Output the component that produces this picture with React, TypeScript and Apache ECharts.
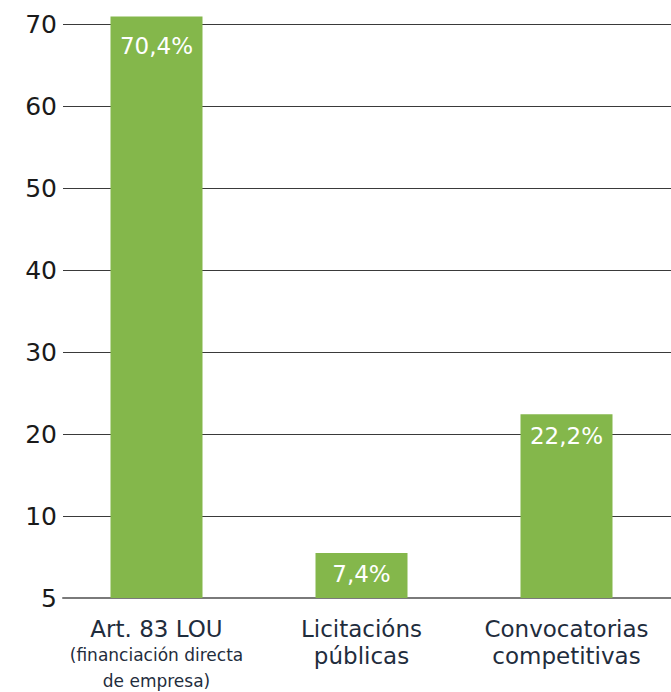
import React, { useEffect, useRef } from "react";
import * as echarts from "echarts";

// Category labels (main line + optional note in smaller type)
const categories = ["Art. 83 LOU", "Licitacións\npúblicas", "Convocatorias\ncompetitivas"];
const categoryNotes = ["(financiación directa\nde empresa)", "", ""];
// Printed share labels on the bars
const shareLabels = ["70,4%", "7,4%", "22,2%"];
// Bar heights
const barValues = [70.9, 5.5, 22.4];
// Y tick labels (the bottom tick is printed as "5")
const yTickLabels = ["5", "10", "20", "30", "40", "50", "60", "70"];

const FONT = "'DejaVu Sans', 'Open Sans', sans-serif";
const GREEN = "#84b74b";

export default function App() {
  const ref = useRef<HTMLDivElement>(null);
  useEffect(() => {
    document.body.style.margin = "0";
    if (!ref.current) return;
    const chart = echarts.init(ref.current, null, { renderer: "svg" });
    const formatCat = (v: string) => {
      const i = categories.indexOf(v);
      const main = v
        .split("\n")
        .map((s) => `{m|${s}}`)
        .join("\n");
      const note = categoryNotes[i]
        ? "\n" +
          categoryNotes[i]
            .split("\n")
            .map((s) => `{n|${s}}`)
            .join("\n")
        : "";
      return main + note;
    };
    chart.setOption({
      animation: false,
      textStyle: { fontFamily: FONT },
      grid: [
        { left: 63, right: 0, top: 24, bottom: 94, containLabel: false },
        { left: 54, right: 2, top: 24, bottom: 94, containLabel: false },
      ],
      xAxis: [
        {
          gridIndex: 0,
          type: "category",
          data: [""],
          axisLine: { show: true, lineStyle: { color: "#7a7a7a", width: 2 } },
          axisTick: { show: false },
          axisLabel: { show: false },
          splitLine: { show: false },
        },
        {
          gridIndex: 1,
          type: "category",
          data: categories,
          axisLine: { show: false },
          axisTick: { show: false },
          axisLabel: {
            margin: 17,
            interval: 0,
            formatter: formatCat,
            rich: {
              m: { fontFamily: FONT, fontSize: 23, lineHeight: 27, color: "#1f2d3d", align: "center" },
              n: { fontFamily: FONT, fontSize: 17, lineHeight: 26, color: "#1f2d3d", align: "center" },
            },
          },
        },
      ],
      yAxis: [
        {
          gridIndex: 0,
          type: "value",
          min: 0,
          max: 70,
          interval: 10,
          axisLine: { show: false },
          axisTick: { show: false },
          axisLabel: {
            margin: 6,
            fontFamily: FONT,
            fontSize: 25,
            color: "#1a1a1a",
            formatter: (v: number) => yTickLabels[Math.round(v / 10)],
          },
          splitLine: { show: true, lineStyle: { color: "#3a3a3a", width: 1 } },
        },
        {
          gridIndex: 1,
          type: "value",
          min: 0,
          max: 70,
          interval: 10,
          show: false,
          splitLine: { show: false },
        },
      ],
      series: [
        {
          type: "bar",
          xAxisIndex: 1,
          yAxisIndex: 1,
          barWidth: 92,
          clip: false,
          itemStyle: { color: GREEN },
          data: barValues.map((v, i) => ({
            value: v,
            label: {
              show: true,
              position: "insideTop",
              distance: i === 0 ? 18 : 10,
              formatter: shareLabels[i],
              color: "#ffffff",
              fontFamily: FONT,
              fontSize: 23,
            },
          })),
        },
      ],
    });
    return () => chart.dispose();
  }, []);
  return <div ref={ref} style={{ width: 671, height: 692 }} />;
}
